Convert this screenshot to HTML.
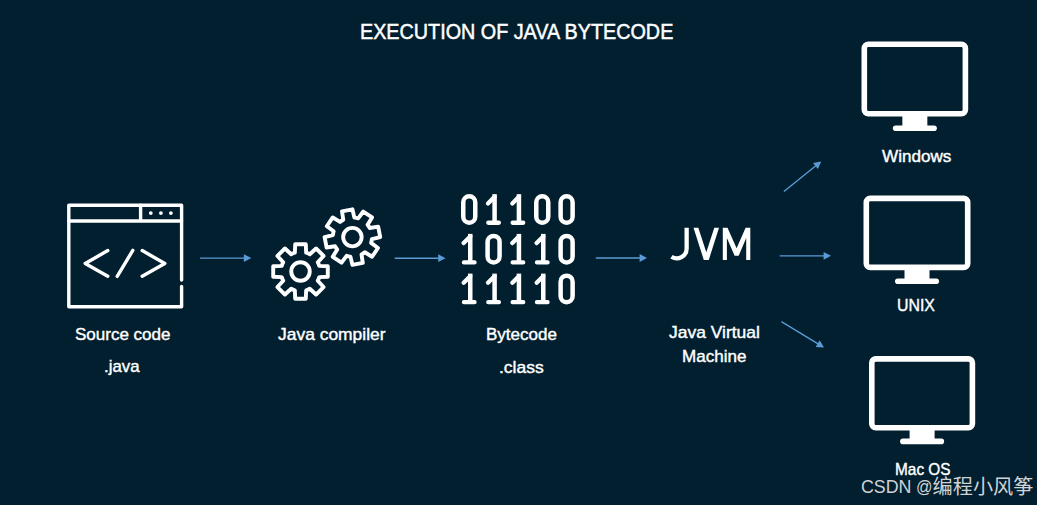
<!DOCTYPE html>
<html><head><meta charset="utf-8">
<style>
html,body{margin:0;padding:0;}
body{width:1037px;height:505px;background:#011f2f;overflow:hidden;position:relative;font-family:"Liberation Sans",sans-serif;color:#fff;}
svg{position:absolute;left:0;top:0;}
.t{position:absolute;white-space:nowrap;line-height:1;font-size:17px;transform-origin:0 0;-webkit-text-stroke:0.4px #fff;}
#title{left:360.39px;top:20.62px;font-size:22px;transform:scaleX(0.8983);-webkit-text-stroke:0.5px #fff;}
#l1{left:74.70px;top:326.21px;font-size:17px;transform:scaleX(1.0002);}
#l2{left:104.47px;top:358.41px;font-size:17px;transform:scaleX(0.9881);}
#l3{left:277.88px;top:326.21px;font-size:17px;transform:scaleX(1.0255);}
#l4{left:485.71px;top:326.21px;font-size:17px;transform:scaleX(1.0014);}
#l5{left:498.69px;top:358.61px;font-size:17px;transform:scaleX(1.0279);}
#l6{left:668.74px;top:324.41px;font-size:17px;transform:scaleX(1.0264);}
#l7{left:681.95px;top:347.81px;font-size:17px;transform:scaleX(1.0024);}
#l8{left:881.79px;top:147.61px;font-size:17px;transform:scaleX(1.0063);}
#l9{left:897.41px;top:297.41px;font-size:17px;transform:scaleX(0.9339);}
#l10{left:894.91px;top:460.61px;font-size:17px;transform:scaleX(0.9054);}
#wm{left:860.86px;top:476.92px;font-size:19px;transform:scaleX(0.9379);color:#cfd3d6;-webkit-text-stroke:0;}
#wm2{left:916.20px;top:476.92px;font-size:19px;transform:scaleX(0.8572);color:#cfd3d6;-webkit-text-stroke:0;}

</style></head><body>
<svg width="1037" height="505" viewBox="0 0 1037 505">
<!-- source code window -->
<g fill="none" stroke="#fff" stroke-width="3.4" stroke-linecap="round" stroke-linejoin="round">
<path d="M181.6 280 V205.2 H68.8 V306.8 H181.6 V286.5"/>
<path d="M68.8 221 H181.6 M140.6 205.2 V221"/>
<path d="M107.8 250.6 L85.2 263.4 L107.8 276.2 M132.8 250.4 L117.2 276.4 M142.2 250.6 L164.8 263.4 L142.2 276.2" stroke-width="3.4"/>
</g>
<g fill="#fff"><circle cx="150.8" cy="213.1" r="1.9"/><circle cx="160.9" cy="213.1" r="1.9"/><circle cx="170.9" cy="213.1" r="1.9"/></g>
<!-- gears -->
<g fill="none" stroke="#fff" stroke-width="3.9" stroke-linejoin="round">
<path d="M294.85 252.73L295.20 244.21 L305.80 244.21 L306.15 252.73A19.60 19.60 0 0 1 309.78 254.23L316.05 248.46 L323.54 255.95 L317.77 262.22A19.60 19.60 0 0 1 319.27 265.85L327.79 266.20 L327.79 276.80 L319.27 277.15A19.60 19.60 0 0 1 317.77 280.78L323.54 287.05 L316.05 294.54 L309.78 288.77A19.60 19.60 0 0 1 306.15 290.27L305.80 298.79 L295.20 298.79 L294.85 290.27A19.60 19.60 0 0 1 291.22 288.77L284.95 294.54 L277.46 287.05 L283.23 280.78A19.60 19.60 0 0 1 281.73 277.15L273.21 276.80 L273.21 266.20 L281.73 265.85A19.60 19.60 0 0 1 283.23 262.22L277.46 255.95 L284.95 248.46 L291.22 254.23A19.60 19.60 0 0 1 294.85 252.73 Z"/>
<circle cx="300.5" cy="271.5" r="9.25"/>
<path d="M343.27 219.75L341.99 211.32 L352.40 209.30 L354.37 217.60A19.60 19.60 0 0 1 358.21 218.38L363.27 211.51 L372.05 217.44 L367.58 224.70A19.60 19.60 0 0 1 369.75 227.97L378.18 226.69 L380.20 237.10 L371.90 239.07A19.60 19.60 0 0 1 371.12 242.91L377.99 247.97 L372.06 256.75 L364.80 252.28A19.60 19.60 0 0 1 361.53 254.45L362.81 262.88 L352.40 264.90 L350.43 256.60A19.60 19.60 0 0 1 346.59 255.82L341.53 262.69 L332.75 256.76 L337.22 249.50A19.60 19.60 0 0 1 335.05 246.23L326.62 247.51 L324.60 237.10 L332.90 235.13A19.60 19.60 0 0 1 333.68 231.29L326.81 226.23 L332.74 217.45 L340.00 221.92A19.60 19.60 0 0 1 343.27 219.75 Z"/>
<circle cx="352.4" cy="237.1" r="9.25"/>
</g>
<!-- digits -->
<g>
<rect x="463.25" y="196.25" width="12.00" height="26.50" rx="6.00" ry="6.00" fill="none" stroke="#fff" stroke-width="4.50"/>
<rect x="492.34" y="194.20" width="4.50" height="28.50" fill="#fff"/><path d="M494.59 196.80 L487.99 203.40 M488.29 222.75 L498.89 222.75" fill="none" stroke="#fff" stroke-width="4.30" stroke-linecap="round"/>
<rect x="516.68" y="194.20" width="4.50" height="28.50" fill="#fff"/><path d="M518.93 196.80 L512.33 203.40 M512.63 222.75 L523.23 222.75" fill="none" stroke="#fff" stroke-width="4.30" stroke-linecap="round"/>
<rect x="536.27" y="196.25" width="12.00" height="26.50" rx="6.00" ry="6.00" fill="none" stroke="#fff" stroke-width="4.50"/>
<rect x="560.61" y="196.25" width="12.00" height="26.50" rx="6.00" ry="6.00" fill="none" stroke="#fff" stroke-width="4.50"/>
<rect x="468.00" y="233.90" width="4.50" height="28.50" fill="#fff"/><path d="M470.25 236.50 L463.65 243.10 M463.95 262.45 L474.55 262.45" fill="none" stroke="#fff" stroke-width="4.30" stroke-linecap="round"/>
<rect x="487.59" y="235.95" width="12.00" height="26.50" rx="6.00" ry="6.00" fill="none" stroke="#fff" stroke-width="4.50"/>
<rect x="516.68" y="233.90" width="4.50" height="28.50" fill="#fff"/><path d="M518.93 236.50 L512.33 243.10 M512.63 262.45 L523.23 262.45" fill="none" stroke="#fff" stroke-width="4.30" stroke-linecap="round"/>
<rect x="541.02" y="233.90" width="4.50" height="28.50" fill="#fff"/><path d="M543.27 236.50 L536.67 243.10 M536.97 262.45 L547.57 262.45" fill="none" stroke="#fff" stroke-width="4.30" stroke-linecap="round"/>
<rect x="560.61" y="235.95" width="12.00" height="26.50" rx="6.00" ry="6.00" fill="none" stroke="#fff" stroke-width="4.50"/>
<rect x="468.00" y="273.60" width="4.50" height="28.50" fill="#fff"/><path d="M470.25 276.20 L463.65 282.80 M463.95 302.15 L474.55 302.15" fill="none" stroke="#fff" stroke-width="4.30" stroke-linecap="round"/>
<rect x="492.34" y="273.60" width="4.50" height="28.50" fill="#fff"/><path d="M494.59 276.20 L487.99 282.80 M488.29 302.15 L498.89 302.15" fill="none" stroke="#fff" stroke-width="4.30" stroke-linecap="round"/>
<rect x="516.68" y="273.60" width="4.50" height="28.50" fill="#fff"/><path d="M518.93 276.20 L512.33 282.80 M512.63 302.15 L523.23 302.15" fill="none" stroke="#fff" stroke-width="4.30" stroke-linecap="round"/>
<rect x="541.02" y="273.60" width="4.50" height="28.50" fill="#fff"/><path d="M543.27 276.20 L536.67 282.80 M536.97 302.15 L547.57 302.15" fill="none" stroke="#fff" stroke-width="4.30" stroke-linecap="round"/>
<rect x="560.61" y="275.65" width="12.00" height="26.50" rx="6.00" ry="6.00" fill="none" stroke="#fff" stroke-width="4.50"/>
</g>
<!-- JVM -->
<path d="M686.65 227.8 V248.5 A9.8 9.8 0 0 1 671.5 256.7" fill="none" stroke="#fff" stroke-width="4.3"/>
<polygon fill="#fff" points="693.5,227.8 698.3,227.8 706.3,252.3 714.3,227.8 719.0,227.8 708.8,259.9 703.8,259.9"/>
<polygon fill="#fff" points="722.8,259.9 722.8,227.8 727.5,227.8 736.6,248.3 745.6,227.8 750.3,227.8 750.3,259.9 746.2,259.9 746.2,238.1 738.7,255.65 734.6,255.65 726.9,238.1 726.9,259.9"/>
<!-- arrows -->
<g stroke="#5b9bd5" stroke-width="1.35" fill="#5b9bd5">
<line x1="200.00" y1="258.10" x2="244.40" y2="258.10"/><polygon stroke="none" points="251.30,258.10 243.90,262.00 243.90,254.20"/>
<line x1="394.70" y1="258.20" x2="438.70" y2="258.20"/><polygon stroke="none" points="445.60,258.20 438.20,262.10 438.20,254.30"/>
<line x1="595.80" y1="258.00" x2="640.10" y2="258.00"/><polygon stroke="none" points="647.00,258.00 639.60,261.90 639.60,254.10"/>
<line x1="779.70" y1="255.80" x2="824.10" y2="255.80"/><polygon stroke="none" points="831.00,255.80 823.60,259.70 823.60,251.90"/>
<line x1="783.90" y1="191.60" x2="815.84" y2="165.74"/><polygon stroke="none" points="821.20,161.40 817.90,169.09 812.99,163.03"/>
<line x1="781.40" y1="321.70" x2="818.09" y2="343.84"/><polygon stroke="none" points="824.00,347.40 815.65,346.92 819.68,340.24"/>
</g>
<!-- monitors -->
<rect x="864.30" y="44.30" width="101.10" height="69.50" rx="4" ry="4" fill="none" stroke="#fff" stroke-width="5.60"/><rect x="902.35" y="115.60" width="25" height="10.90" fill="#fff"/><rect x="892.85" y="125.40" width="44" height="5.6" rx="2.8" fill="#fff"/>
<rect x="866.30" y="198.40" width="101.40" height="69.00" rx="4" ry="4" fill="none" stroke="#fff" stroke-width="5.60"/><rect x="904.50" y="269.20" width="25" height="10.30" fill="#fff"/><rect x="895.00" y="278.40" width="44" height="5.6" rx="2.8" fill="#fff"/>
<rect x="871.80" y="358.90" width="100.60" height="68.90" rx="4" ry="4" fill="none" stroke="#fff" stroke-width="5.60"/><rect x="909.60" y="429.60" width="25" height="10.10" fill="#fff"/><rect x="900.10" y="438.60" width="44" height="5.6" rx="2.8" fill="#fff"/>
</svg>

<div class="t" id="title">EXECUTION OF JAVA BYTECODE</div>
<div class="t" id="l1">Source code</div>
<div class="t" id="l2">.java</div>
<div class="t" id="l3">Java compiler</div>
<div class="t" id="l4">Bytecode</div>
<div class="t" id="l5">.class</div>
<div class="t" id="l6">Java Virtual</div>
<div class="t" id="l7">Machine</div>
<div class="t" id="l8">Windows</div>
<div class="t" id="l9">UNIX</div>
<div class="t" id="l10">Mac OS</div>
<div class="t" id="wm">CSDN</div>
<div class="t" id="wm2">@</div>
<svg width="1037" height="505" viewBox="0 0 1037 505"><text x="932.6" y="494" font-size="20.15" fill="#cfd3d6" font-family="'Liberation Sans','Noto Sans CJK SC',sans-serif">编程小风筝</text></svg>
</body></html>
